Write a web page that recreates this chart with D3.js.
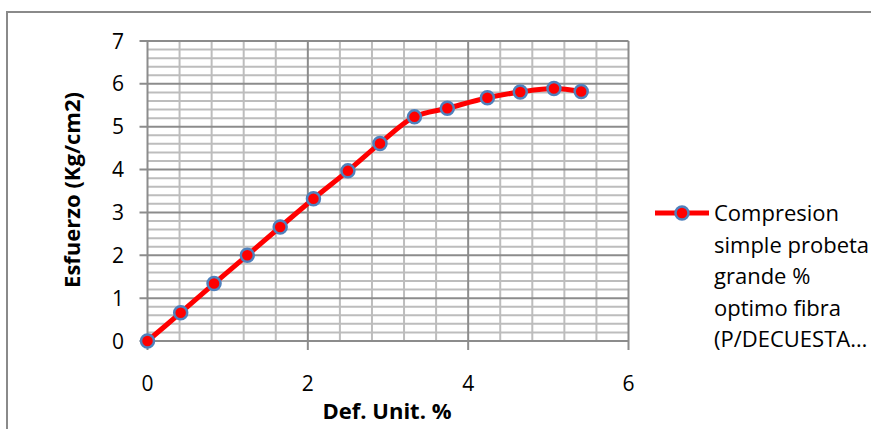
<!DOCTYPE html>
<html><head><meta charset="utf-8">
<script src="https://cdn.jsdelivr.net/npm/d3@7"></script>
<style>
html,body{margin:0;padding:0;background:#fff;}
svg{display:block;font-family:"Open Sans",Lato,sans-serif;}
</style></head>
<body>
<svg id="c" width="871" height="429"></svg>
<script>
const defUnit = [0, 0.414, 0.83, 1.245, 1.655, 2.07, 2.50, 2.90, 3.33, 3.74, 4.24, 4.65, 5.07, 5.41];
const esfuerzo = [0, 0.66, 1.34, 2.00, 2.66, 3.32, 3.97, 4.61, 5.23, 5.43, 5.675, 5.81, 5.89, 5.82];
const xTicks = [0, 2, 4, 6];
const yTicks = [0, 1, 2, 3, 4, 5, 6, 7];
const seriesName = ["Compresion", "simple probeta", "grande %", "optimo fibra", "(P/DECUESTA\u2026"];
const xTitle = "Def. Unit. %";
const yTitle = "Esfuerzo (Kg/cm2)";

const svg = d3.select("#c");
const L = 147.5, R = 628.5, T = 41, B = 341;
const x = d3.scaleLinear().domain([0, 6]).range([L, R]);
const y = d3.scaleLinear().domain([0, 7]).range([B, T]);

// chart border
svg.append("rect").attr("x", 7).attr("y", 12).attr("width", 900).attr("height", 500)
  .attr("fill", "none").attr("stroke", "#8a8a8a").attr("stroke-width", 2);

const g = svg.append("g");
// minor grid
const xMinor = d3.range(0, 6.0001, 0.4).filter(v => Math.abs(v / 2 - Math.round(v / 2)) > 1e-6);
const yMinor = d3.range(0, 7.0001, 0.2).filter(v => Math.abs(v - Math.round(v)) > 1e-6);
g.selectAll(".ym").data(yMinor).join("line")
  .attr("x1", L).attr("x2", R).attr("y1", d => y(d)).attr("y2", d => y(d))
  .attr("stroke", "#bdbdbd").attr("stroke-width", 2);
g.selectAll(".xm").data(xMinor).join("line")
  .attr("y1", T).attr("y2", B).attr("x1", d => x(d)).attr("x2", d => x(d))
  .attr("stroke", "#bdbdbd").attr("stroke-width", 2);
// major grid
g.selectAll(".yM").data(yTicks).join("line")
  .attr("x1", L - 8).attr("x2", R).attr("y1", d => y(d)).attr("y2", d => y(d))
  .attr("stroke", "#8c8c8c").attr("stroke-width", 2);
g.selectAll(".xM").data(xTicks).join("line")
  .attr("y1", T).attr("y2", B + 9).attr("x1", d => x(d)).attr("x2", d => x(d))
  .attr("stroke", "#8c8c8c").attr("stroke-width", 2);

// axes labels
g.selectAll(".yl").data(yTicks).join("text")
  .attr("x", 124).attr("y", d => y(d)).attr("dy", "0.36em")
  .attr("text-anchor", "end").attr("font-size", 21).attr("fill", "#000")
  .text(d => d);
g.selectAll(".xl").data(xTicks).join("text")
  .attr("x", d => x(d)).attr("y", 383).attr("dy", "0.36em")
  .attr("text-anchor", "middle").attr("font-size", 21).attr("fill", "#000")
  .text(d => d);

svg.append("text").attr("x", 387).attr("y", 411).attr("dy", "0.36em")
  .attr("text-anchor", "middle").attr("font-size", 22).attr("font-weight", "bold")
  .text(xTitle);
svg.append("text").attr("transform", "translate(72,190) rotate(-90)").attr("dy", "0.36em")
  .attr("text-anchor", "middle").attr("font-size", 22).attr("font-weight", "bold")
  .text(yTitle);

// series
const pts = defUnit.map((d, i) => [d, esfuerzo[i]]);
const line = d3.line().x(d => x(d[0])).y(d => y(d[1])).curve(d3.curveCatmullRom.alpha(0.5));
svg.append("path").datum(pts).attr("d", line).attr("fill", "none")
  .attr("stroke", "#ff0000").attr("stroke-width", 5).attr("stroke-linejoin", "round");
svg.selectAll(".pt").data(pts).join("circle")
  .attr("cx", d => x(d[0])).attr("cy", d => y(d[1])).attr("r", 6.5)
  .attr("fill", "#ff0000").attr("stroke", "#4f81bd").attr("stroke-width", 2.5);

// legend
const lg = svg.append("g");
lg.append("line").attr("x1", 655).attr("x2", 709).attr("y1", 213).attr("y2", 213)
  .attr("stroke", "#ff0000").attr("stroke-width", 5);
lg.append("circle").attr("cx", 682).attr("cy", 213).attr("r", 6.5)
  .attr("fill", "#ff0000").attr("stroke", "#4f81bd").attr("stroke-width", 2.5);
lg.selectAll("text").data(seriesName).join("text")
  .attr("x", 714).attr("y", (d, i) => 213 + i * 31.6).attr("dy", "0.36em")
  .attr("font-size", 22).attr("fill", "#000").text(d => d);
</script>
</body></html>
